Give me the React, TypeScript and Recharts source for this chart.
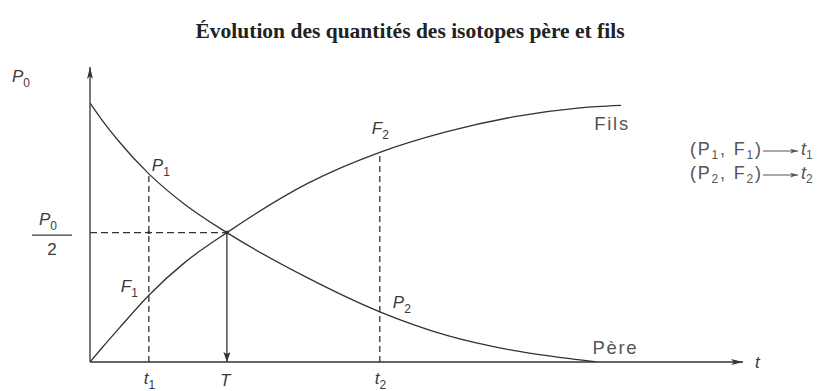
import React from "react";
import { LineChart, Line, XAxis, YAxis, ReferenceLine, ReferenceDot } from "recharts";

// time in units of half-life T, quantities in units of P0
const times = [0, 0.085, 0.207, 0.43, 0.693, 1, 1.59, 2.117, 2.6, 3.09, 3.58, 3.7, 3.88];
const pere = [1, 0.937, 0.855, 0.727, 0.609, 0.5, 0.325, 0.194, 0.104, 0.045, 0.008, 0.0, null];
const fils = [0, 0.053, 0.127, 0.258, 0.385, 0.5, 0.69, 0.81, 0.889, 0.947, 0.982, 0.987, 0.992];

const t1 = 0.43;
const tHalf = 1;
const t2 = 2.117;
const half = 0.5;
const p1 = 0.727;
const f1 = 0.258;
const p2 = 0.194;
const f2 = 0.81;
const xMax = 4.77;
const yMax = 1.14;

const title = "Évolution des quantités des isotopes père et fils";
const legendRows = [
  { p: "P", f: "F", idx: "1", t: "t" },
  { p: "P", f: "F", idx: "2", t: "t" },
];

const data = times.map((t, i) => ({ t, pere: pere[i], fils: fils[i] }));

const INK = "#333";
const LABEL = "#3a3a3a";
const SANS = '"Liberation Sans", Arial, sans-serif';

type LabProps = {
  main: string;
  sub?: string;
  dx: number;
  dy: number;
  anchor?: "start" | "end" | "middle";
  italic?: boolean;
  size?: number;
  color?: string;
  len?: number;
};

const makeLabel = ({ main, sub, dx, dy, anchor = "start", italic = true, size = 17, color = LABEL, len }: LabProps) =>
  (props: any) => {
    const vb = props.viewBox || {};
    const x = (vb.x || 0) + (vb.width || 0) / 2 + dx;
    const y = (vb.y || 0) + (vb.height || 0) / 2 + dy;
    const extra: any = len ? { textLength: len, lengthAdjust: "spacing" } : {};
    return (
      <text x={x} y={y} textAnchor={anchor} fontFamily={SANS} fontSize={size} fill={color} {...extra}>
        <tspan fontStyle={italic ? "italic" : "normal"}>{main}</tspan>
        {sub ? (
          <tspan dy={5} fontSize={12}>
            {sub}
          </tspan>
        ) : null}
      </text>
    );
  };

const fracLabel = (props: any) => {
  const vb = props.viewBox || {};
  const x = (vb.x || 0) + (vb.width || 0) / 2;
  const y = (vb.y || 0) + (vb.height || 0) / 2;
  const cx = x - 38;
  return (
    <g>
      <text x={cx - 4} y={y - 8} textAnchor="middle" fontFamily={SANS} fontSize={17} fill={LABEL}>
        <tspan fontStyle="italic">P</tspan>
        <tspan dy={5} fontSize={12}>0</tspan>
      </text>
      <line x1={cx - 20} x2={cx + 20} y1={y + 2.5} y2={y + 2.5} stroke={LABEL} strokeWidth={1.2} />
      <text x={cx} y={y + 22} textAnchor="middle" fontFamily={SANS} fontSize={17} fill={LABEL}>
        2
      </text>
    </g>
  );
};

const arrowShape = (marker: string, dash?: string) => (p: any) =>
  (
    <line
      x1={p.x1}
      y1={p.y1}
      x2={p.x2}
      y2={p.y2}
      stroke={INK}
      strokeWidth={1.3}
      strokeDasharray={dash}
      markerEnd={marker ? `url(#${marker})` : undefined}
    />
  );

export default function App() {
  return (
    <div style={{ position: "absolute", left: 0, top: 0, width: 821, height: 391, background: "#fff" }}>
      <svg width={0} height={0} style={{ position: "absolute" }}>
        <defs>
          <marker id="arrAxis" viewBox="0 0 12 6" refX={12} refY={3} markerWidth={12} markerHeight={6} orient="auto" markerUnits="userSpaceOnUse">
            <path d="M0,0 L12,3 L0,6 L3,3 z" fill={INK} />
          </marker>
          <marker id="arrT" viewBox="0 0 10 7" refX={10} refY={3.5} markerWidth={10} markerHeight={7} orient="auto" markerUnits="userSpaceOnUse">
            <path d="M0,0 L10,3.5 L0,7 L2,3.5 z" fill={INK} />
          </marker>
          <marker id="arrLeg" viewBox="0 0 8 5" refX={8} refY={2.5} markerWidth={8} markerHeight={5} orient="auto" markerUnits="userSpaceOnUse">
            <path d="M0,0 L8,2.5 L0,5 L2,2.5 z" fill="#555" />
          </marker>
        </defs>
      </svg>
      <LineChart
        width={821}
        height={391}
        data={data}
        margin={{ top: 67, right: 78, bottom: 29, left: 90 }}
        style={{ position: "absolute", left: 0, top: 0 }}
      >
        <XAxis type="number" dataKey="t" domain={[0, xMax]} hide allowDataOverflow />
        <YAxis type="number" domain={[0, yMax]} hide allowDataOverflow />

        {/* axes with arrows */}
        <ReferenceLine segment={[{ x: 0, y: 0 }, { x: xMax, y: 0 }]} shape={arrowShape("arrAxis")} ifOverflow="visible" />
        <ReferenceLine segment={[{ x: 0, y: 0 }, { x: 0, y: yMax }]} shape={arrowShape("arrAxis")} ifOverflow="visible" />

        {/* guide lines */}
        <ReferenceLine segment={[{ x: 0, y: half }, { x: tHalf, y: half }]} shape={arrowShape("", "7 4")} ifOverflow="visible" />
        <ReferenceLine segment={[{ x: t1, y: 0 }, { x: t1, y: p1 }]} shape={arrowShape("", "6 4")} ifOverflow="visible" />
        <ReferenceLine segment={[{ x: t2, y: 0 }, { x: t2, y: f2 }]} shape={arrowShape("", "6 4")} ifOverflow="visible" />
        <ReferenceLine segment={[{ x: tHalf, y: half }, { x: tHalf, y: 0 }]} shape={arrowShape("arrT")} ifOverflow="visible" />

        <Line type="monotone" dataKey="pere" stroke={INK} strokeWidth={1.3} dot={false} isAnimationActive={false} />
        <Line type="monotone" dataKey="fils" stroke={INK} strokeWidth={1.3} dot={false} isAnimationActive={false} />

        <ReferenceDot x={tHalf} y={half} r={2} fill={INK} stroke="none" ifOverflow="visible" />
        <ReferenceDot x={t1} y={half} r={1.5} fill={INK} stroke="none" ifOverflow="visible" />

        {/* text annotations anchored to data points */}
        <ReferenceDot x={0} y={yMax} r={0} stroke="none" fill="none" ifOverflow="visible" label={makeLabel({ main: "P", sub: "0", dx: -78, dy: 15 })} />
        <ReferenceDot x={0} y={half} r={0} stroke="none" fill="none" ifOverflow="visible" label={fracLabel} />
        <ReferenceDot x={t1} y={0} r={0} stroke="none" fill="none" ifOverflow="visible" label={makeLabel({ main: "t", sub: "1", dx: -5, dy: 22 })} />
        <ReferenceDot x={tHalf} y={0} r={0} stroke="none" fill="none" ifOverflow="visible" label={makeLabel({ main: "T", dx: -7, dy: 24 })} />
        <ReferenceDot x={t2} y={0} r={0} stroke="none" fill="none" ifOverflow="visible" label={makeLabel({ main: "t", sub: "2", dx: -5, dy: 22 })} />
        <ReferenceDot x={xMax} y={0} r={0} stroke="none" fill="none" ifOverflow="visible" label={makeLabel({ main: "t", dx: 12, dy: 6 })} />
        <ReferenceDot x={t1} y={p1} r={0} stroke="none" fill="none" ifOverflow="visible" label={makeLabel({ main: "P", sub: "1", dx: 3, dy: -3 })} />
        <ReferenceDot x={t1} y={f1} r={0} stroke="none" fill="none" ifOverflow="visible" label={makeLabel({ main: "F", sub: "1", dx: -11, dy: -3, anchor: "end" })} />
        <ReferenceDot x={t2} y={f2} r={0} stroke="none" fill="none" ifOverflow="visible" label={makeLabel({ main: "F", sub: "2", dx: -8, dy: -18 })} />
        <ReferenceDot x={t2} y={p2} r={0} stroke="none" fill="none" ifOverflow="visible" label={makeLabel({ main: "P", sub: "2", dx: 13, dy: -4 })} />
        <ReferenceDot x={times[12]} y={fils[12]} r={0} stroke="none" fill="none" ifOverflow="visible" label={makeLabel({ main: "Fils", dx: -27, dy: 25, italic: false, size: 18.5, color: "#555", len: 34 })} />
        <ReferenceDot x={times[11]} y={0} r={0} stroke="none" fill="none" ifOverflow="visible" label={makeLabel({ main: "Père", dx: -4, dy: -8, italic: false, size: 18.5, color: "#555", len: 44 })} />
      </LineChart>

      <svg width={821} height={391} style={{ position: "absolute", left: 0, top: 0, pointerEvents: "none" }}>
        <text x={410} y={38} textAnchor="middle" fontFamily='"Liberation Serif", "Times New Roman", serif' fontWeight="bold" fontSize={21.5} fill="#222">
          {title}
        </text>
        {legendRows.map((r, i) => {
          const y = 155 + i * 24;
          return (
            <g key={i}>
              <text x={690} y={y} fontFamily={SANS} fontSize={18} fill="#555" textLength={71} lengthAdjust="spacing">
                <tspan>({r.p}</tspan>
                <tspan dy={4} fontSize={12}>{r.idx}</tspan>
                <tspan dy={-4}>, {r.f}</tspan>
                <tspan dy={4} fontSize={12}>{r.idx}</tspan>
                <tspan dy={-4}>)</tspan>
              </text>
              <line x1={763} x2={798} y1={y - 4} y2={y - 4} stroke="#555" strokeWidth={1.2} markerEnd="url(#arrLeg)" />
              <text x={801} y={y} fontFamily={SANS} fontSize={18} fill="#555">
                <tspan fontStyle="italic">{r.t}</tspan>
                <tspan dy={4} fontSize={12}>{r.idx}</tspan>
              </text>
            </g>
          );
        })}
      </svg>
    </div>
  );
}
